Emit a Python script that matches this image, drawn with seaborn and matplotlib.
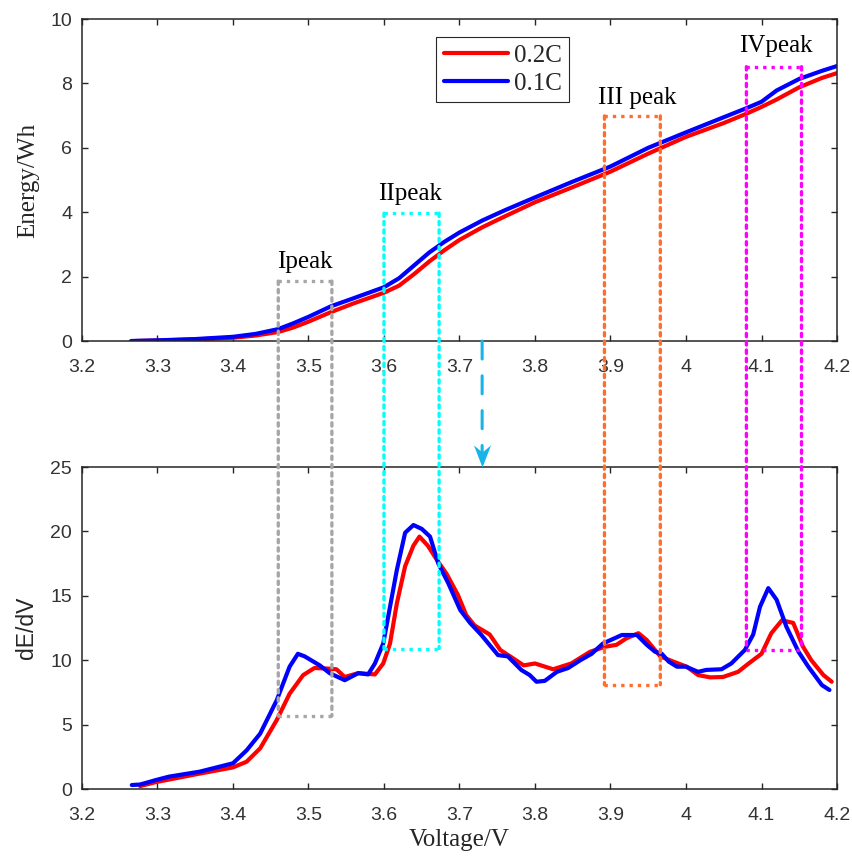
import matplotlib
matplotlib.use("Agg")
import matplotlib.pyplot as plt
import numpy as np
import seaborn as sns
from matplotlib.patches import ConnectionPatch
from matplotlib.path import Path

# energy curves (top panel)
v_e_02 = [3.27, 3.3, 3.35, 3.4, 3.43, 3.46, 3.48, 3.5, 3.53, 3.56, 3.6, 3.62, 3.64, 3.66,
          3.68, 3.7, 3.73, 3.76, 3.8, 3.85, 3.9, 3.95, 4.0, 4.05, 4.08, 4.1, 4.12, 4.15, 4.18, 4.2]
e_02 = [0, 0.015, 0.05, 0.1, 0.17, 0.28, 0.42, 0.6, 0.9, 1.17, 1.5, 1.72, 2.08, 2.47,
        2.82, 3.14, 3.53, 3.87, 4.31, 4.78, 5.26, 5.82, 6.34, 6.77, 7.06, 7.27, 7.5, 7.88, 8.17, 8.32]
v_e_01 = [3.265, 3.3, 3.35, 3.4, 3.43, 3.46, 3.48, 3.5, 3.53, 3.56, 3.6, 3.62, 3.64, 3.66,
          3.68, 3.7, 3.73, 3.76, 3.8, 3.85, 3.9, 3.95, 4.0, 4.05, 4.08, 4.1, 4.12, 4.15, 4.18, 4.2]
e_01 = [0, 0.02, 0.06, 0.13, 0.22, 0.37, 0.55, 0.75, 1.08, 1.33, 1.67, 1.95, 2.35, 2.75,
        3.08, 3.37, 3.74, 4.06, 4.46, 4.95, 5.42, 6.0, 6.48, 6.95, 7.23, 7.43, 7.78, 8.14, 8.39, 8.54]

# dE/dV curves (bottom panel)
v_d_02 = [3.277, 3.298, 3.356, 3.4, 3.418, 3.436, 3.458, 3.475, 3.493, 3.508, 3.526, 3.537,
          3.548, 3.566, 3.588, 3.599, 3.608, 3.617, 3.628, 3.639, 3.647, 3.658, 3.670, 3.683,
          3.698, 3.709, 3.720, 3.740, 3.754, 3.771, 3.785, 3.800, 3.824, 3.848, 3.873, 3.893,
          3.908, 3.921, 3.937, 3.948, 3.966, 3.983, 4.001, 4.016, 4.032, 4.049, 4.069, 4.083,
          4.100, 4.113, 4.127, 4.142, 4.155, 4.166, 4.182, 4.193]
d_02 = [0.23, 0.54, 1.2, 1.68, 2.12, 3.16, 5.36, 7.4, 8.85, 9.4, 9.35, 9.3,
        8.7, 9.0, 8.9, 9.75, 11.3, 14.4, 17.3, 18.9, 19.6, 18.9, 17.8, 16.7,
        15.06, 13.5, 12.7, 12.0, 10.8, 10.15, 9.6, 9.75, 9.3, 9.75, 10.66, 11.05,
        11.2, 11.7, 12.1, 11.57, 10.3, 9.9, 9.5, 8.85, 8.67, 8.7, 9.1, 9.75,
        10.5, 12.1, 13.1, 12.9, 11.05, 10.0, 8.85, 8.33]
v_d_01 = [3.266, 3.277, 3.298, 3.315, 3.356, 3.4, 3.418, 3.436, 3.458, 3.475, 3.486, 3.495,
          3.515, 3.528, 3.548, 3.566, 3.579, 3.588, 3.599, 3.617, 3.628, 3.639, 3.650, 3.661,
          3.672, 3.685, 3.701, 3.714, 3.729, 3.751, 3.764, 3.782, 3.793, 3.802, 3.813, 3.829,
          3.844, 3.860, 3.875, 3.890, 3.915, 3.935, 3.948, 3.959, 3.968, 3.977, 3.988, 4.0,
          4.016, 4.027, 4.047, 4.060, 4.078, 4.089, 4.098, 4.109, 4.120, 4.133, 4.149, 4.162,
          4.180, 4.190]
d_01 = [0.31, 0.35, 0.7, 0.96, 1.35, 2.0, 3.0, 4.3, 6.9, 9.5, 10.5, 10.3,
        9.6, 9.0, 8.45, 9.0, 8.9, 9.75, 11.3, 17.0, 19.9, 20.5, 20.2, 19.6,
        17.5, 16.0, 13.9, 12.9, 11.96, 10.4, 10.3, 9.24, 8.85, 8.33, 8.4, 9.1,
        9.4, 10.0, 10.5, 11.3, 11.96, 11.96, 11.2, 10.66, 10.5, 9.9, 9.5, 9.5,
        9.1, 9.25, 9.3, 9.75, 10.8, 12.0, 14.15, 15.6, 14.7, 12.6, 10.66, 9.5,
        8.07, 7.69]

# peak windows
peak_names = ["Ipeak", "IIpeak", "III peak", "IVpeak"]
peak_left = [3.46, 3.60, 3.892, 4.08]
peak_right = [3.531, 3.673, 3.966, 4.153]
peak_energy_top = [1.86, 3.97, 6.99, 8.52]
peak_dedv_bottom = [5.67, 10.9, 8.1, 10.8]
peak_colors = ["#a6a6a6", "#00ffff", "#ff6f2b", "#ff00ff"]
label_x = [3.495, 3.635, 3.935, 4.119]
label_y = [2.28, 4.38, 7.36, 8.97]
arrow_v = 3.73

x_ticks = np.round(np.arange(3.2, 4.21, 0.1), 1)
x_ticklabels = ["3.2", "3.3", "3.4", "3.5", "3.6", "3.7", "3.8", "3.9", "4", "4.1", "4.2"]

sns.set_theme(style="ticks")
plt.rcParams.update({
    "font.family": ["Liberation Sans", "DejaVu Sans"],
    "xtick.direction": "in", "ytick.direction": "in",
    "xtick.top": True, "ytick.right": True,
    "xtick.major.size": 4.3, "ytick.major.size": 4.3,
    "xtick.major.width": 1.0, "ytick.major.width": 1.0,
    "xtick.color": "#262626", "ytick.color": "#262626",
    "xtick.labelcolor": "#333333", "ytick.labelcolor": "#333333",
    "xtick.labelsize": 14, "ytick.labelsize": 14,
    "xtick.major.pad": 13, "ytick.major.pad": 7,
    "axes.edgecolor": "#262626", "axes.linewidth": 1.1,
})
SERIF = ["Liberation Serif", "DejaVu Serif"]
DOT = (0, (1, 1.5))

fig = plt.figure(figsize=(8.52, 8.57), dpi=100)
ax_top = fig.add_axes([0.0962, 0.6021, 0.8862, 0.3757])
ax_bot = fig.add_axes([0.0962, 0.0793, 0.8862, 0.3757])

sns.lineplot(x=v_e_02, y=e_02, ax=ax_top, color="red", linewidth=3, label="0.2C")
sns.lineplot(x=v_e_01, y=e_01, ax=ax_top, color="blue", linewidth=3, label="0.1C")
sns.lineplot(x=v_d_02, y=d_02, ax=ax_bot, color="red", linewidth=3)
sns.lineplot(x=v_d_01, y=d_01, ax=ax_bot, color="blue", linewidth=3)

for ax, ymax, ystep in [(ax_top, 10, 2), (ax_bot, 25, 5)]:
    ax.set_xlim(3.2, 4.2)
    ax.set_ylim(0, ymax)
    ax.set_xticks(x_ticks)
    ax.set_xticklabels(x_ticklabels)
    ax.set_yticks(np.arange(0, ymax + 1, ystep))
    for s in ax.spines.values():
        s.set_visible(True)

ax_top.set_ylabel("Energy/Wh", fontsize=18, family=SERIF, color="#262626")
ax_bot.set_ylabel("dE/dV", fontsize=16.5, color="#262626")
ax_top.yaxis.set_label_coords(-0.056, 0.5)
ax_bot.yaxis.set_label_coords(-0.058, 0.5)
ax_bot.set_xlabel("Voltage/V", fontsize=18, family=SERIF, color="#262626")
ax_bot.xaxis.set_label_coords(0.5, -0.124)
ax_top.set_xlabel("")

leg = ax_top.legend(loc="upper left", bbox_to_anchor=(0.469, 0.944), borderaxespad=0,
                    frameon=True, fancybox=False, framealpha=1, edgecolor="#262626",
                    prop={"family": SERIF, "size": 18}, handlelength=2.56,
                    handletextpad=0.25, labelspacing=0.2, borderpad=0.3)
leg.get_frame().set_linewidth(0.8)

# dotted peak windows spanning both panels
for name, x0, x1, et, db, c, tx, ty in zip(peak_names, peak_left, peak_right, peak_energy_top,
                                             peak_dedv_bottom, peak_colors, label_x, label_y):
    ax_top.plot([x0, x1], [et, et], color=c, lw=2.4, linestyle=DOT, zorder=5)
    ax_bot.plot([x0, x1], [db, db], color=c, lw=2.4, linestyle=DOT, zorder=5)
    for xv in (x0, x1):
        con = ConnectionPatch(xyA=(xv, et), coordsA=ax_top.transData,
                              xyB=(xv, db), coordsB=ax_bot.transData,
                              color=c, lw=2.4, linestyle=DOT, zorder=5)
        fig.add_artist(con)
    ax_top.text(tx, ty, name, ha="center", va="baseline", fontsize=18, family=SERIF, color="black")

# dashed arrow between panels
arrow_col = "#17b4e8"
con = ConnectionPatch(xyA=(arrow_v, 0), coordsA=ax_top.transData,
                      xyB=(arrow_v, 25), coordsB=ax_bot.transData,
                      color=arrow_col, lw=2.2, linestyle=(0, (5.9, 5.5)), shrinkB=11, zorder=6)
fig.add_artist(con)
head = Path([(0, 0), (-8.5, 22), (0, 15), (8.5, 22), (0, 0)],
            [Path.MOVETO, Path.LINETO, Path.LINETO, Path.LINETO, Path.CLOSEPOLY])
ax_bot.plot([arrow_v], [25], marker=head, markersize=31.7, color=arrow_col,
            markeredgewidth=0, clip_on=False, zorder=6)

fig.savefig("out.png", dpi=100)
